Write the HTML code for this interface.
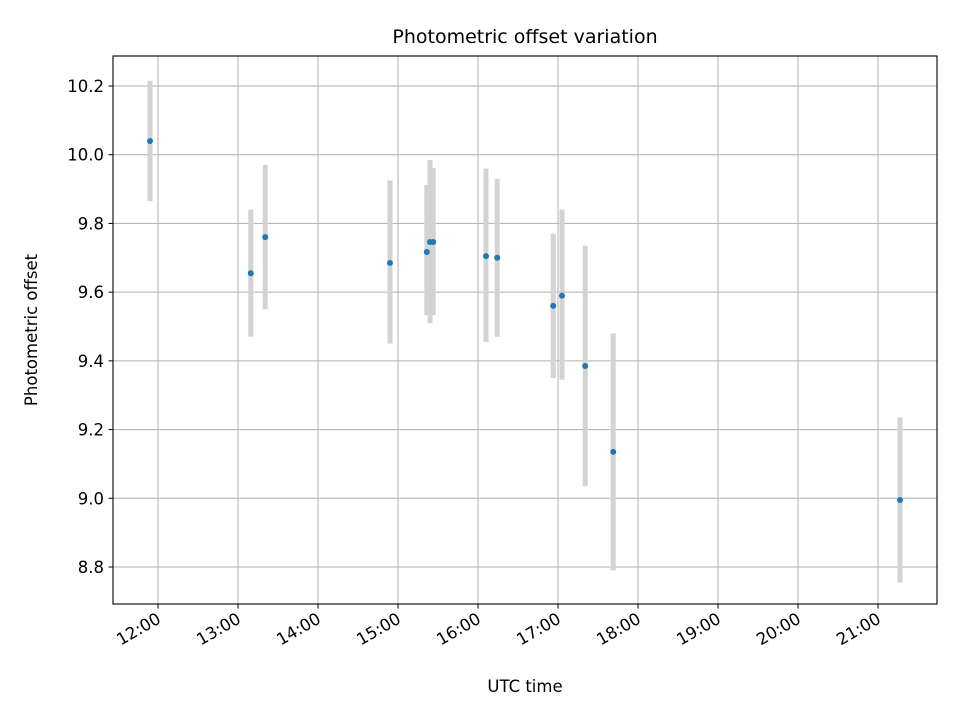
<!DOCTYPE html>
<html><head><meta charset="utf-8"><style>
body{margin:0;background:#fff;font-family:"Liberation Sans","DejaVu Sans",sans-serif;}
svg text{font-family:"DejaVu Sans","Liberation Sans",sans-serif;fill:#000;}
</style></head><body>
<svg id="chart" width="960" height="720" viewBox="0 0 960 720">
<rect width="960" height="720" fill="#fff"/>
<g id="grid"></g><g id="bars"></g><g id="pts"></g><g id="axes"></g>
<rect x="113" y="56" width="824" height="548" fill="none" stroke="#000" stroke-width="1.1"/>
<text x="525" y="43" font-size="19" text-anchor="middle">Photometric offset variation</text>
<text x="525" y="692" font-size="16.5" text-anchor="middle">UTC time</text>
<text x="37" y="330" font-size="16.5" text-anchor="middle" transform="rotate(-90 37 330)">Photometric offset</text>
</svg>
<script>
const times=[11.9,13.16,13.34,14.9,15.36,15.40,15.44,16.1,16.24,16.94,17.05,17.34,17.69,21.275];
const values=[10.04,9.655,9.76,9.685,9.717,9.746,9.746,9.705,9.7,9.56,9.59,9.385,9.135,8.995];
const upper=[10.215,9.84,9.97,9.925,9.912,9.985,9.961,9.96,9.93,9.77,9.84,9.735,9.48,9.235];
const lower=[9.865,9.47,9.55,9.45,9.533,9.51,9.533,9.455,9.47,9.35,9.345,9.035,8.79,8.755];
const yTicks=[8.8,9.0,9.2,9.4,9.6,9.8,10.0,10.2];
const xTicks=[12,13,14,15,16,17,18,19,20,21];
const xTickLabels=["12:00","13:00","14:00","15:00","16:00","17:00","18:00","19:00","20:00","21:00"];
const NS="http://www.w3.org/2000/svg";
const X=h=>158+(h-12)*80;
const Y=v=>86+(10.2-v)*343.57;
function mk(p,t,a){const e=document.createElementNS(NS,t);for(const k in a)e.setAttribute(k,a[k]);p.appendChild(e);return e;}
const grid=document.getElementById('grid'),axes=document.getElementById('axes'),bars=document.getElementById('bars'),pts=document.getElementById('pts');
yTicks.forEach(v=>{const y=Y(v);
 const g=mk(grid,'line',{x1:113,x2:937,y1:y,y2:y,stroke:'#b0b0b0','stroke-width':1});
 
 
 mk(axes,'line',{x1:108.5,x2:113,y1:y,y2:y,stroke:'#000'});
 const t=mk(axes,'text',{x:104,y:y+6,'font-size':16.5,'text-anchor':'end'});t.textContent=v.toFixed(1);
 
 
});
xTicks.forEach((h,i)=>{const x=X(h);
 const g=mk(grid,'line',{x1:x,x2:x,y1:56,y2:604,stroke:'#b0b0b0','stroke-width':1});
 
 
 mk(axes,'line',{x1:x,x2:x,y1:604,y2:608.5,stroke:'#000'});
 const t=mk(axes,'text',{x:x+4,y:622,'font-size':16.5,'text-anchor':'end',transform:`rotate(-30 ${x+4} 622)`});t.textContent=xTickLabels[i];
 
 
});
times.forEach((h,i)=>{const x=X(h);
 const b=mk(bars,'line',{x1:x,x2:x,y1:Y(upper[i]),y2:Y(lower[i]),stroke:'#d3d3d3','stroke-width':5});
 
 
});
times.forEach((h,i)=>{
 const c=mk(pts,'circle',{cx:X(h),cy:Y(values[i]),r:3,fill:'#1f77b4'});
 
 
});
</script>
</body></html>
